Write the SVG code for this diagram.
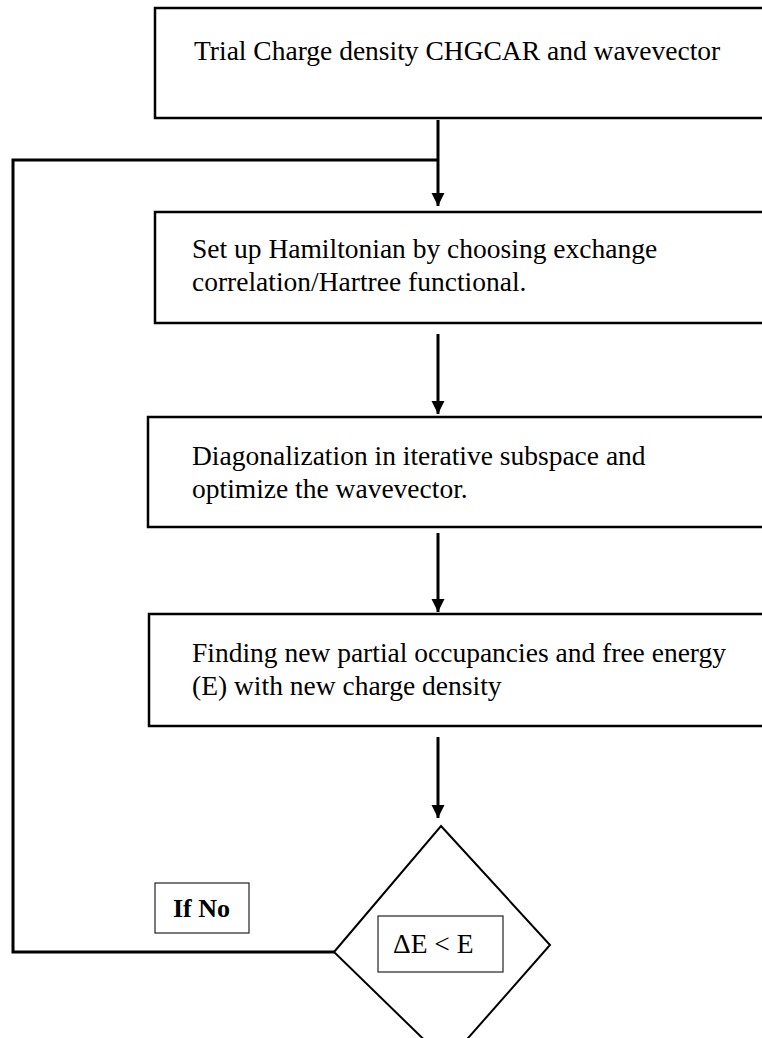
<svg xmlns="http://www.w3.org/2000/svg" width="762" height="1038" viewBox="0 0 762 1038">
<defs>
<style>
.box{fill:#fff;stroke:#000;stroke-width:2.5}
.thin{fill:#fff;stroke:#222;stroke-width:1.2}
.t{font-family:"Liberation Serif","Times New Roman",serif;font-size:27.5px;fill:#000}
.b{font-family:"Liberation Serif","Times New Roman",serif;font-size:26px;font-weight:bold;fill:#000}
.ln{fill:none;stroke:#000;stroke-width:3}
</style>
<marker id="ah" viewBox="0 0 10 10" refX="10" refY="5" markerWidth="4.4" markerHeight="4.4" markerUnits="strokeWidth" orient="auto">
<path d="M0,0 L10,5 L0,10 Z" fill="#000"/>
</marker>
</defs>
<rect width="762" height="1038" fill="#fff"/>
<g id="connectors">
<path class="ln" d="M438,120 V206" marker-end="url(#ah)"/>
<path class="ln" d="M438,160 H13 V952 H334"/>
<path class="ln" d="M438,334 V414" marker-end="url(#ah)"/>
<path class="ln" d="M438,533 V612" marker-end="url(#ah)"/>
<path class="ln" d="M438,737 V818" marker-end="url(#ah)"/>
</g>
<g id="n1">
<rect class="box" x="155" y="8" width="620" height="110"/>
<text class="t" x="194" y="60">Trial Charge density CHGCAR and wavevector</text>
</g>
<g id="n2">
<rect class="box" x="155" y="212" width="620" height="111"/>
<text class="t" x="192" y="258">Set up Hamiltonian by choosing exchange</text>
<text class="t" x="192" y="291">correlation/Hartree functional.</text>
</g>
<g id="n3">
<rect class="box" x="148" y="417" width="627" height="110"/>
<text class="t" x="192" y="465">Diagonalization in iterative subspace and</text>
<text class="t" x="192" y="498">optimize the wavevector.</text>
</g>
<g id="n4">
<rect class="box" x="149" y="614" width="626" height="112"/>
<text class="t" x="192" y="662">Finding new partial occupancies and free energy</text>
<text class="t" x="192" y="695">(E) with new charge density</text>
</g>
<g id="n5">
<polygon points="441,826 550,945 447,1062 334,952" fill="#fff" stroke="#000" stroke-width="2"/>
<rect class="thin" x="378" y="916" width="125" height="56"/>
<text class="t" x="393" y="953">ΔE &lt; E</text>
</g>
<g id="label-no">
<rect class="thin" x="155" y="883" width="94" height="50"/>
<text class="b" x="173" y="917">If No</text>
</g>
</svg>
